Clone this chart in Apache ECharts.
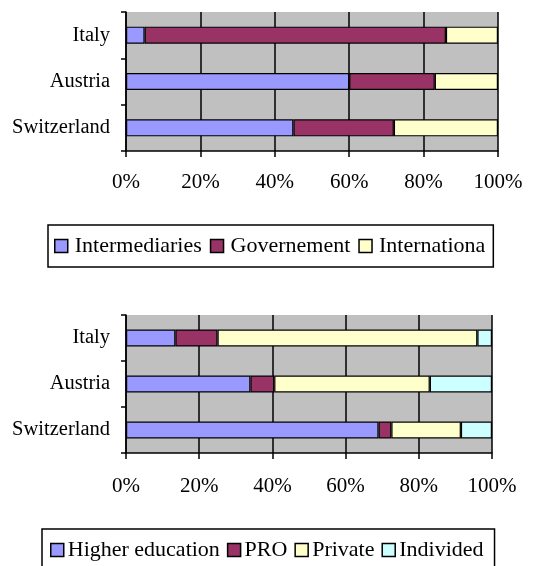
<!DOCTYPE html>
<html style="height: 100%">

<head>
    <meta charset="utf-8">
</head>

<body style="height: 100%; margin: 0; background: #fff">
    <div id="main" style="width: 556px; height: 566px"></div>

    <script type="text/javascript" src="https://cdn.jsdelivr.net/npm/echarts@6/dist/echarts.min.js"></script>

    <script type="text/javascript">
        // categories (bottom to top, as drawn on the y axis)
        var countries = ['Switzerland', 'Austria', 'Italy'];

        // top chart, % shares
        var topNames = ['Intermediaries', 'Governement', 'Internationa'];
        var intermediaries = [45, 60, 5];
        var governement = [27, 23, 81];
        var internationa = [28, 17, 14];

        // bottom chart, % shares
        var bottomNames = ['Higher education', 'PRO', 'Private', 'Individed'];
        var higherEducation = [69, 34, 13.5];
        var pro = [3.5, 6.5, 11.5];
        var privateSector = [19, 42.5, 71];
        var individed = [8.5, 17, 4];

        var xTicks = { min: 0, max: 100, interval: 20 };

        var colors = ['#9999FF', '#993366', '#FFFFCC', '#CCFFFF'];
        var font = '"Liberation Serif", "Times New Roman", serif';

        var dom = document.getElementById('main');
        var myChart = echarts.init(dom, null, { renderer: 'canvas' });

        function xAxisFor(gridIndex, margin) {
            return {
                type: 'value',
                gridIndex: gridIndex,
                min: xTicks.min,
                max: xTicks.max,
                interval: xTicks.interval,
                axisLine: { show: true, lineStyle: { color: '#000', width: 1.5 } },
                axisTick: { show: true, length: 6, lineStyle: { color: '#000', width: 1.5 } },
                splitLine: { show: true, lineStyle: { color: '#000', width: 1.5 } },
                axisLabel: {
                    formatter: '{value}%',
                    color: '#000',
                    fontFamily: font,
                    fontSize: 21,
                    margin: margin
                }
            };
        }

        function yAxisFor(gridIndex) {
            return {
                type: 'category',
                gridIndex: gridIndex,
                data: countries,
                axisLine: { show: true, lineStyle: { color: '#000', width: 1.5 } },
                axisTick: { show: true, length: 5, lineStyle: { color: '#000', width: 1.5 } },
                splitLine: { show: false },
                axisLabel: {
                    color: '#000',
                    fontFamily: font,
                    fontSize: 20.5,
                    margin: 16
                }
            };
        }

        function barSeries(name, data, idx, colorIdx, stack) {
            return {
                type: 'bar',
                name: name,
                stack: stack,
                xAxisIndex: idx,
                yAxisIndex: idx,
                barWidth: 17,
                data: data,
                itemStyle: { color: colors[colorIdx], borderColor: '#000', borderWidth: 1.2 },
                emphasis: { disabled: true }
            };
        }

        function legendFor(names, left, top, gap, textPad, padding) {
            return {
                data: names,
                left: left,
                top: top,
                orient: 'horizontal',
                icon: 'rect',
                itemWidth: 13,
                itemHeight: 13,
                itemGap: gap,
                padding: padding,
                borderColor: '#000',
                borderWidth: 1.5,
                itemStyle: { borderColor: '#000', borderWidth: 1.5 },
                textStyle: { color: '#000', fontFamily: font, fontSize: 22, padding: [0, 0, 0, textPad] }
            };
        }

        var option = {
            animation: false,
            backgroundColor: '#fff',
            grid: [
                { left: 126, top: 12, width: 372, height: 139, show: true, backgroundColor: '#C0C0C0', borderWidth: 0 },
                { left: 126, top: 315, width: 366, height: 138, show: true, backgroundColor: '#C0C0C0', borderWidth: 0 }
            ],
            xAxis: [xAxisFor(0, 21), xAxisFor(1, 23)],
            yAxis: [yAxisFor(0), yAxisFor(1)],
            legend: [
                legendFor(topNames, 48, 225, 8, 2, [10, 8, 10, 6]),
                legendFor(bottomNames, 42, 529, 7, -1, [10, 11, 10, 8])
            ],
            series: [
                barSeries(topNames[0], intermediaries, 0, 0, 'top'),
                barSeries(topNames[1], governement, 0, 1, 'top'),
                barSeries(topNames[2], internationa, 0, 2, 'top'),
                barSeries(bottomNames[0], higherEducation, 1, 0, 'bottom'),
                barSeries(bottomNames[1], pro, 1, 1, 'bottom'),
                barSeries(bottomNames[2], privateSector, 1, 2, 'bottom'),
                barSeries(bottomNames[3], individed, 1, 3, 'bottom')
            ]
        };

        if (option && typeof option === 'object') {
            myChart.setOption(option);
        }
    </script>
</body>

</html>
